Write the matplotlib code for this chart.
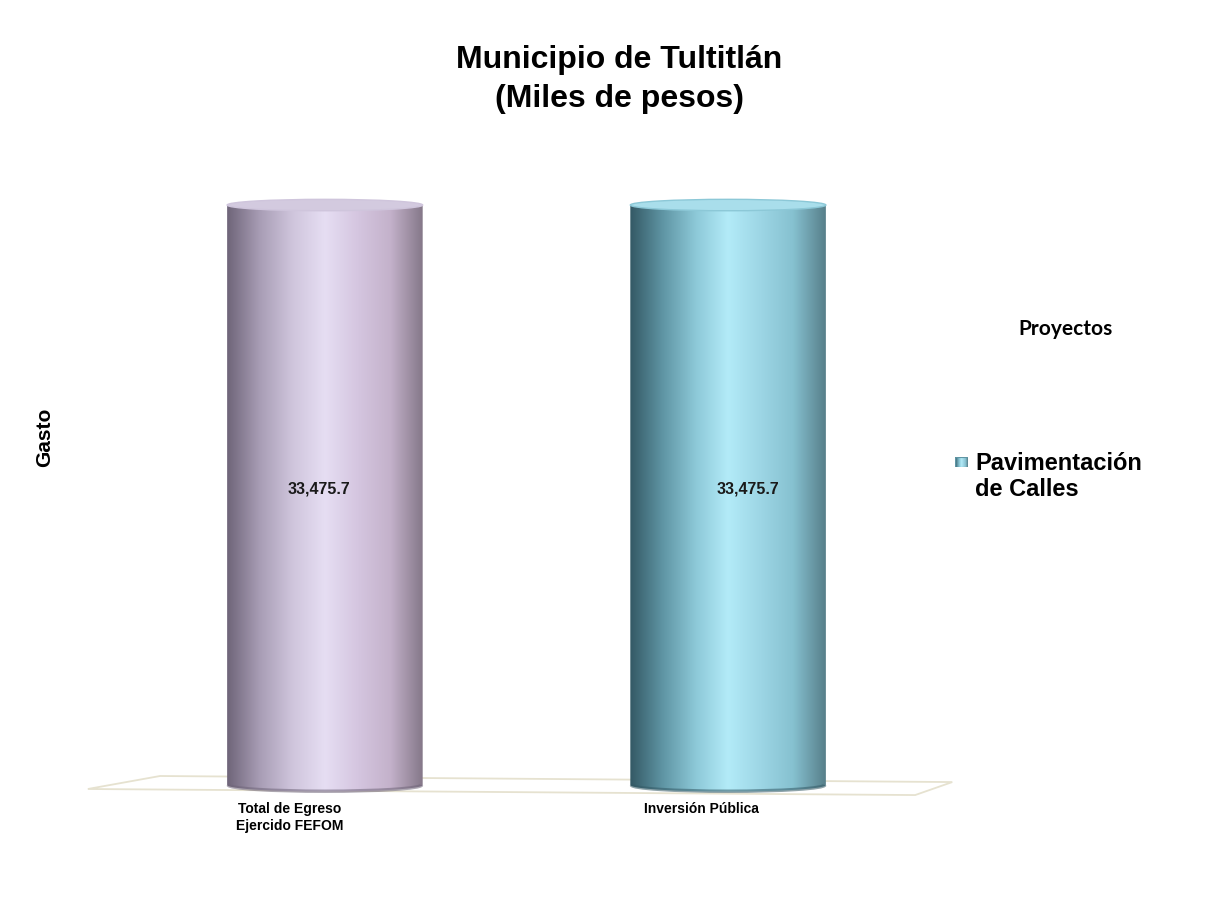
import numpy as np
import matplotlib
matplotlib.use('Agg')
import matplotlib.pyplot as plt
from matplotlib.colors import LinearSegmentedColormap
from matplotlib.patches import Ellipse, PathPatch, Polygon, Rectangle, Arc
from matplotlib.path import Path

# Data
categories = ['Total de Egreso\nEjercido FEFOM', 'Inversión Pública']
values = [33475.7, 33475.7]
value_labels = ['33,475.7', '33,475.7']
legend_label = 'Pavimentación\nde Calles'

# shading of each cylinder, left edge -> highlight -> right edge
shades = [
    ['#6f6579', '#a89db5', '#cfc5dc', '#e6def3', '#d5c6e0', '#c4b2cb', '#857889'],
    ['#345965', '#5f95a4', '#8cc8d7', '#b3ebf8', '#9dd6e5', '#86c1d0', '#577f8a'],
]
top_colors = ['#d3cadf', '#a9deeb']

plt.rcParams['font.family'] = ['Liberation Sans', 'DejaVu Sans']

fig = plt.figure(figsize=(12.06, 9.05), dpi=100)
W, H = 1206, 905
ax = fig.add_axes([83 / W, 94 / H, 887 / W, 719 / H])
ax.set_xlim(-0.6, 1.6)
ax.set_ylim(-1500, 40000)
ax.axis('off')

# floor plane
floor = Polygon([(-0.588, -230), (-0.409, 520), (1.556, 170), (1.464, -580)], closed=True,
                facecolor='white', edgecolor='#e6e2d0', linewidth=1.3, zorder=0)
ax.add_patch(floor)

width = 0.485
ry_top = 330
ry_bot = 380
label_shift = [-0.015, 0.05]
cat_shift = [-0.087, -0.065]
for i, (val, cols) in enumerate(zip(values, shades)):
    x0, x1 = i - width / 2, i + width / 2
    cx = i
    rx = width / 2
    # body clip path: rectangle + lower half ellipse
    t = np.linspace(np.pi, 2 * np.pi, 60)
    verts = [(x0, val)]
    verts += [(cx + rx * np.cos(a), ry_bot * np.sin(a)) for a in t]
    verts += [(x1, val), (x0, val)]
    codes = [Path.MOVETO] + [Path.LINETO] * (len(verts) - 2) + [Path.CLOSEPOLY]
    clip = PathPatch(Path(verts, codes), facecolor='none', edgecolor='none')
    ax.add_patch(clip)
    cmap = LinearSegmentedColormap.from_list('c%d' % i, cols)
    grad = np.linspace(0, 1, 256).reshape(1, -1)
    im = ax.imshow(grad, cmap=cmap, extent=[x0, x1, -ry_bot, val], aspect='auto',
                   interpolation='bicubic', zorder=2)
    im.set_clip_path(clip)
    # darker rim at the bottom
    ax.add_patch(Arc((cx, 0), 2 * rx - 0.006, 2 * ry_bot - 40, theta1=185, theta2=355,
                     color=cols[0], alpha=0.55, linewidth=2.5, zorder=3))
    # top cap
    ax.add_patch(Ellipse((cx, val), 2 * rx, 2 * ry_top, facecolor=top_colors[i],
                         edgecolor=cols[2], linewidth=1.0, zorder=3))
    ax.text(cx + label_shift[i], val * 0.51, value_labels[i], ha='center', va='center',
            fontsize=11.5, fontweight='bold', color='#1a1a1a', zorder=4)
    ax.text(cx + cat_shift[i], -1000, categories[i], ha='center', va='top',
            fontsize=10, fontweight='bold', linespacing=1.27)

fig.text(619 / W, 1 - 68 / H, 'Municipio de Tultitlán', ha='center', va='baseline',
         fontsize=23, fontweight='bold')
fig.text(619 / W, 1 - 107 / H, '(Miles de pesos)', ha='center', va='baseline',
         fontsize=23, fontweight='bold')
fig.text(45 / W, 1 - 437 / H, 'Gasto', rotation=90, ha='center', va='center',
         fontsize=15, fontweight='bold')
fig.text(1065 / W, 1 - 329 / H, 'Proyectos', ha='center', va='center',
         fontsize=15, fontweight='bold', family=['Lato', 'DejaVu Sans'])

# legend
lax = fig.add_axes([955 / W, 1 - 467 / H, 13 / W, 10 / H])
lax.imshow(np.linspace(0, 1, 32).reshape(1, -1), cmap=LinearSegmentedColormap.from_list('l', shades[1]),
           aspect='auto', extent=[0, 1, 0, 1])
lax.add_patch(Rectangle((0, 0), 1, 1, fill=False, edgecolor='#5f95a4', linewidth=0.8))
lax.axis('off')
for k, line in enumerate(legend_label.split('\n')):
    fig.text(975 / W, 1 - (470 + 26 * k) / H, line, ha='left', va='baseline', fontsize=17,
             fontweight='bold')

fig.savefig('out.png', dpi=100, facecolor='white')
